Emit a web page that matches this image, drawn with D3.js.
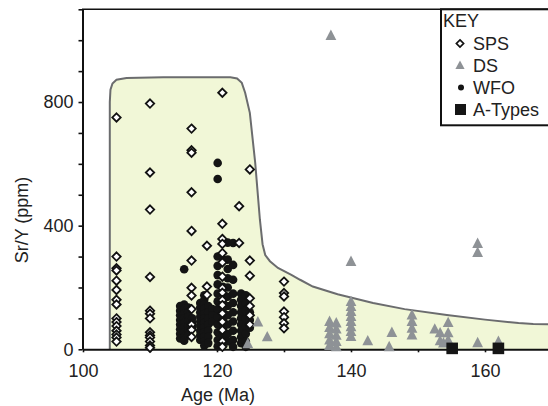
<!DOCTYPE html>
<html>
<head>
<meta charset="utf-8">
<script src="https://cdn.jsdelivr.net/npm/d3@7"></script>
<style>
  body { margin: 0; background: #fff; }
  svg { display: block; font-family: "Liberation Sans", Arial, sans-serif; }
</style>
</head>
<body>
<div id="chart"></div>
<script>
// Sr/Y vs age
const SPS = [
  [105, 750], [105, 300], [105, 262], [105, 255], [105, 222], [105, 192], [105, 160], [105, 145],
  [105, 100], [105, 88], [105, 75], [105, 60], [105, 48], [105, 38], [105, 25],
  [110, 795], [110, 572], [110, 452], [110, 234], [110, 125], [110, 115], [110, 100], [110, 55],
  [110, 45], [110, 38], [110, 25], [110, 12], [110, 5],
  [116.2, 714], [116.2, 644], [116.2, 636], [116.2, 508], [116.2, 383], [116.2, 287], [116.2, 199],
  [116.2, 174], [116.2, 130], [116.2, 80], [116.2, 63], [116.2, 40],
  [118.5, 335], [118.5, 203], [118.5, 176],
  [120.8, 830], [120.8, 406], [120.8, 357], [120.8, 341], [120.8, 311], [120.8, 281], [120.8, 235],
  [120.8, 198], [120.8, 183], [120.8, 159], [120.8, 143], [120.8, 116], [120.8, 89], [120.8, 62],
  [120.8, 26], [120.8, 8],
  [123.3, 463], [123.3, 344],
  [124.9, 582], [124.9, 287], [124.9, 238], [124.9, 165], [124.9, 140], [124.9, 110], [124.9, 80],
  [130, 219], [130, 182], [130, 171], [130, 122], [130, 104], [130, 84], [130, 68]
];

const WFO = [
  [114.5, 140], [114.5, 125], [114.5, 110], [114.5, 95], [114.5, 80], [114.5, 65], [114.5, 50], [114.5, 35],
  [115.1, 259], [115.1, 145], [115.1, 130], [115.1, 115], [115.1, 100], [115.1, 85], [115.1, 70],
  [115.1, 55], [115.1, 40], [115.1, 28],
  [115.7, 135], [115.7, 120], [115.7, 105], [115.7, 90], [115.7, 75], [115.7, 60], [115.7, 45],
  [116.3, 100], [116.3, 85], [116.3, 70],
  [117.5, 150], [117.5, 135], [117.5, 120], [117.5, 105], [117.5, 90], [117.5, 75], [117.5, 60],
  [117.5, 45], [117.5, 30],
  [118.1, 175], [118.1, 160], [118.1, 145], [118.1, 130], [118.1, 115], [118.1, 100], [118.1, 85],
  [118.1, 70], [118.1, 55], [118.1, 40], [118.1, 25], [118.1, 12],
  [118.7, 140], [118.7, 120], [118.7, 100], [118.7, 80], [118.7, 60], [118.7, 40], [118.7, 20],
  [119.3, 130], [119.3, 110], [119.3, 90],
  [120.1, 603], [120.1, 551], [120.1, 300], [120.1, 270], [120.1, 240], [120.1, 210], [120.1, 180],
  [120.1, 155], [120.1, 130], [120.1, 105], [120.1, 80], [120.1, 55], [120.1, 30], [120.1, 10],
  [120.9, 290], [120.9, 202], [120.9, 150], [120.9, 120], [120.9, 95], [120.9, 70], [120.9, 45], [120.9, 20],
  [121.6, 345], [121.6, 290], [121.6, 260], [121.6, 230], [121.6, 200], [121.6, 170], [121.6, 140],
  [121.6, 110], [121.6, 80], [121.6, 50], [121.6, 25],
  [122.4, 344], [122.4, 273], [122.4, 225], [122.4, 180], [122.4, 150], [122.4, 120], [122.4, 90],
  [122.4, 60], [122.4, 30], [122.4, 8],
  [123.6, 180], [123.6, 160], [123.6, 140], [123.6, 120], [123.6, 100], [123.6, 80], [123.6, 60],
  [123.6, 40], [123.6, 20],
  [124.3, 175], [124.3, 150], [124.3, 125], [124.3, 100], [124.3, 75], [124.3, 50], [124.3, 25], [124.3, 8],
  [124.9, 120], [124.9, 95], [124.9, 70]
];

const DS = [
  [137.0, 1015], [140, 284], [158.9, 342], [158.9, 313],
  [126.1, 88], [127.5, 40], [124.6, 18],
  [136.8, 90], [136.8, 70], [136.8, 50], [136.8, 30], [136.8, 12],
  [137.8, 85], [137.8, 65], [137.8, 45], [137.8, 25], [137.8, 8],
  [140, 154], [140, 138], [140, 122], [140, 106], [140, 90], [140, 73], [140, 57], [140, 41],
  [142.5, 27], [146.1, 54], [145.7, 8],
  [149.1, 111], [149.1, 90], [149.1, 68], [149.1, 46],
  [152.5, 65], [153.3, 53], [153.3, 27], [153.8, 20],
  [154.5, 86], [154.5, 53], [154.5, 30],
  [158.9, 21], [162, 25]
];

const ATYPES = [[155.1, 3], [162, 3]];

// outline of the shaded SPS field
const FIELD = [
  [104.0, 0], [104.0, 800], [104.1, 840], [104.4, 860], [105.0, 872], [106.5, 878], [112, 880],
  [122.0, 880], [123.0, 876], [123.7, 862], [124.2, 830], [124.9, 765], [125.7, 604], [126.4, 420],
  [126.8, 340], [127.2, 305], [127.9, 285], [129.1, 263], [131.1, 241], [132.4, 225], [134.3, 203],
  [138, 178], [143.3, 150], [148, 130], [154.3, 111], [160, 96], [165, 85], [167.2, 82], [170, 81],
  [170, 0]
];

const X_TICKS = [100, 110, 120, 130, 140, 150, 160, 170];
const Y_TICKS = [0, 100, 200, 300, 400, 500, 600, 700, 800, 900, 1000, 1100];
const KEY_ITEMS = ["SPS", "DS", "WFO", "A-Types"];

const W = 548, H = 406;

const svg = d3.select("#chart").append("svg")
  .attr("width", W)
  .attr("height", H);

const x = d3.scaleLinear().domain([100, 170]).range([83, 552]);
const y = d3.scaleLinear().domain([0, 1100]).range([349.3, 9.3]);

// shaded field
svg.append("path")
  .datum(FIELD)
  .attr("d", d3.line().x(d => x(d[0])).y(d => y(d[1])))
  .attr("fill", "#f1f7d7")
  .attr("stroke", "#6b6c6e")
  .attr("stroke-width", 2);

// top frame line
svg.append("line")
  .attr("x1", 82).attr("x2", W)
  .attr("y1", 9.3).attr("y2", 9.3)
  .attr("stroke", "#111").attr("stroke-width", 1.6);

const xAxis = svg.append("g")
  .attr("transform", `translate(0, ${y(0)})`)
  .call(d3.axisBottom(x).tickValues(X_TICKS).tickSize(3).tickSizeOuter(0).tickPadding(12)
    .tickFormat(d => d % 20 === 0 ? d : ""));

const yAxis = svg.append("g")
  .attr("transform", `translate(${x(100) - 0.5}, 0)`)
  .call(d3.axisLeft(y).tickValues(Y_TICKS).tickSize(4).tickSizeOuter(0).tickPadding(5)
    .tickFormat(d => d % 400 === 0 ? d : ""));

[xAxis, yAxis].forEach(g => {
  g.select(".domain").attr("stroke", "#111").attr("stroke-width", 2);
  g.selectAll(".tick line").attr("stroke", "#111").attr("stroke-width", 1.6);
  g.selectAll(".tick text").attr("font-size", 18).attr("fill", "#222")
    .attr("font-family", "Liberation Sans, Arial, sans-serif");
});

// axis titles
svg.append("text")
  .attr("x", 218).attr("y", 401)
  .attr("text-anchor", "middle")
  .attr("font-size", 18).attr("fill", "#222")
  .text("Age (Ma)");

svg.append("text")
  .attr("transform", "translate(28, 220) rotate(-90)")
  .attr("text-anchor", "middle")
  .attr("font-size", 18).attr("fill", "#222")
  .text("Sr/Y (ppm)");

const diamond = "M0,-4.2L4.2,0L0,4.2L-4.2,0Z";
const triangle = "M0,-6L5.4,4.4L-5.4,4.4Z";

// WFO dots
svg.append("g").selectAll("circle")
  .data(WFO).enter().append("circle")
  .attr("cx", d => x(d[0]))
  .attr("cy", d => y(d[1]))
  .attr("r", 4.3)
  .attr("fill", "#141414");

// SPS diamonds
svg.append("g").selectAll("path")
  .data(SPS).enter().append("path")
  .attr("d", diamond)
  .attr("transform", d => `translate(${x(d[0])}, ${y(d[1])})`)
  .attr("fill", "#fff")
  .attr("stroke", "#111")
  .attr("stroke-width", 1.8);

// DS triangles
svg.append("g").selectAll("path")
  .data(DS).enter().append("path")
  .attr("d", triangle)
  .attr("transform", d => `translate(${x(d[0])}, ${y(d[1])})`)
  .attr("fill", "#8e9296");

// A-Types squares
svg.append("g").selectAll("rect")
  .data(ATYPES).enter().append("rect")
  .attr("x", d => x(d[0]) - 5.8)
  .attr("y", d => y(d[1]) - 5.8)
  .attr("width", 11.6).attr("height", 11.6)
  .attr("fill", "#151515");

// key
const key = svg.append("g");
key.append("rect")
  .attr("x", 441).attr("y", 9.3)
  .attr("width", 110).attr("height", 116)
  .attr("fill", "#fff")
  .attr("stroke", "#111").attr("stroke-width", 2);

key.append("text")
  .attr("x", 443).attr("y", 27)
  .attr("font-size", 18).attr("fill", "#222")
  .text("KEY");

const rows = key.selectAll("g.row")
  .data(KEY_ITEMS).enter().append("g")
  .attr("class", "row")
  .attr("transform", (d, i) => `translate(460, ${43.5 + i * 22})`);

rows.append("text")
  .attr("x", 13).attr("y", 6.5)
  .attr("font-size", 18).attr("fill", "#222")
  .text(d => d);

rows.each(function(d) {
  const g = d3.select(this);
  if (d === "SPS") {
    g.append("path").attr("d", "M0,-3.6L3.6,0L0,3.6L-3.6,0Z")
      .attr("fill", "#fff").attr("stroke", "#111").attr("stroke-width", 1.7);
  } else if (d === "DS") {
    g.append("path").attr("d", "M0,-5L4.6,3.6L-4.6,3.6Z").attr("fill", "#8e9296");
  } else if (d === "WFO") {
    g.append("circle").attr("cx", 1).attr("r", 3).attr("fill", "#141414");
  } else {
    g.append("rect").attr("x", -5).attr("y", -5.5).attr("width", 11).attr("height", 11)
      .attr("fill", "#151515");
  }
});
</script>
</body>
</html>
